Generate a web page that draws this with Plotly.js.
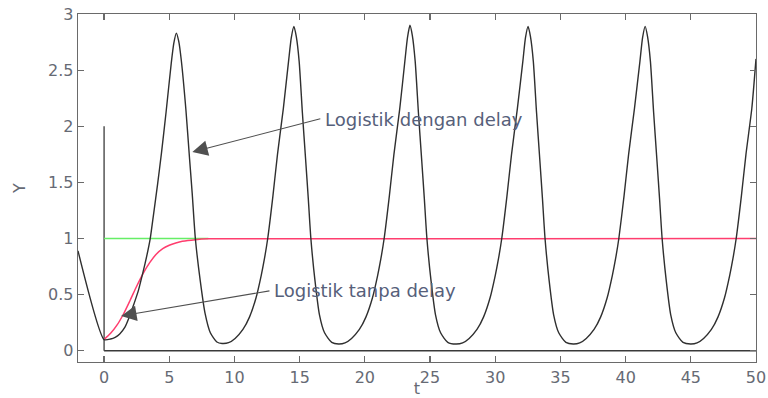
<!DOCTYPE html>
<html>
<head>
<meta charset="utf-8">
<script src="https://cdn.plot.ly/plotly-3.0.1.min.js"></script>
<style>html,body{margin:0;padding:0;background:#fff;}#chart{width:768px;height:398px;}</style>
</head>
<body>
<div id="chart"></div>
<script>
// Logistik dengan delay (black curve)
const tDelay = [-2, 0, 0.5, 0.85, 1.2, 1.6, 2.0, 2.3, 2.64, 2.9, 3.15, 3.54, 3.8, 4.1, 4.4, 4.75, 5.15, 5.35, 5.54,
  5.72, 5.92, 6.28, 6.55, 6.76, 7.0, 7.38, 7.75, 8.15, 8.65, 9.05,
  9.55, 10.05, 10.65, 11.15, 11.65, 12.05, 12.3, 12.55, 12.95, 13.3, 13.75, 14.15, 14.36, 14.56,
  14.74, 14.96, 15.21, 15.46, 15.66, 15.86, 16.18, 16.52, 16.91, 17.46, 17.98,
  18.48, 18.98, 19.58, 20.08, 20.58, 20.98, 21.23, 21.48, 21.88, 22.23, 22.68, 23.07, 23.27, 23.46,
  23.64, 23.86, 24.11, 24.36, 24.56, 24.76, 25.08, 25.42, 25.81, 26.36, 26.98,
  27.5, 28.0, 28.6, 29.1, 29.6, 30.0, 30.25, 30.5, 30.9, 31.25, 31.7, 32.12, 32.32, 32.52,
  32.7, 32.92, 33.17, 33.42, 33.62, 33.82, 34.14, 34.48, 34.87, 35.42, 35.98,
  36.48, 36.98, 37.58, 38.08, 38.58, 38.98, 39.23, 39.48, 39.88, 40.23, 40.68, 41.1, 41.3, 41.5,
  41.68, 41.9, 42.15, 42.4, 42.6, 42.8, 43.12, 43.46, 43.85, 44.4, 44.98,
  45.48, 45.98, 46.58, 47.08, 47.58, 47.98, 48.23, 48.48, 48.88, 49.23, 49.68, 50.0];
const yDelay = [0.89, 0.1, 0.105, 0.12, 0.15, 0.21, 0.32, 0.42, 0.54, 0.66, 0.78, 1.0, 1.22, 1.48, 1.76, 2.12, 2.56, 2.74, 2.83,
  2.76, 2.59, 2.14, 1.72, 1.40, 1.0, 0.62, 0.33, 0.16, 0.078, 0.065,
  0.072, 0.11, 0.19, 0.30, 0.47, 0.67, 0.82, 1.0, 1.38, 1.75, 2.16, 2.58, 2.79, 2.89,
  2.80, 2.58, 2.12, 1.70, 1.36, 1.0, 0.62, 0.32, 0.16, 0.075, 0.06,
  0.07, 0.11, 0.19, 0.30, 0.47, 0.67, 0.82, 1.0, 1.38, 1.75, 2.16, 2.58, 2.79, 2.90,
  2.81, 2.58, 2.12, 1.70, 1.36, 1.0, 0.62, 0.32, 0.16, 0.075, 0.06,
  0.07, 0.11, 0.19, 0.30, 0.47, 0.67, 0.82, 1.0, 1.38, 1.75, 2.16, 2.58, 2.79, 2.89,
  2.80, 2.58, 2.12, 1.70, 1.36, 1.0, 0.62, 0.32, 0.16, 0.075, 0.06,
  0.07, 0.11, 0.19, 0.30, 0.47, 0.67, 0.82, 1.0, 1.38, 1.75, 2.16, 2.58, 2.79, 2.89,
  2.80, 2.58, 2.12, 1.70, 1.36, 1.0, 0.62, 0.32, 0.16, 0.075, 0.06,
  0.07, 0.11, 0.19, 0.30, 0.47, 0.67, 0.82, 1.0, 1.38, 1.75, 2.16, 2.6];

// Logistik tanpa delay (red curve)
const tNoDelay = [0, 0.5, 1, 1.5, 2, 2.5, 3, 3.5, 4, 4.5, 5, 5.5, 6, 7, 8, 50];
const yNoDelay = [0.1, 0.155, 0.23, 0.33, 0.45, 0.575, 0.69, 0.785, 0.86, 0.91, 0.94, 0.96, 0.975, 0.99, 0.997, 1.0];

// carrying capacity line (green)
const tK = [0, 8];
const yK = [1, 1];

// reference axes lines drawn inside the plot
const tVert = [0, 0];
const yVert = [0, 2];
const tHor = [0, 50];
const yHor = [0, 0];

const xTicks = [0, 5, 10, 15, 20, 25, 30, 35, 40, 45, 50];
const yTicks = [0, 0.5, 1, 1.5, 2, 2.5, 3];
const yTickText = ['0', '0.5', '1', '1.5', '2', '2.5', '3'];

const labelDelay = 'Logistik dengan delay';
const labelNoDelay = 'Logistik tanpa delay';

const font = 'DejaVu Sans, Arial, sans-serif';
const tickColor = '#666a74';

const traces = [
  {x: tVert, y: yVert, mode: 'lines', line: {color: '#3a3a3a', width: 1.3}, hoverinfo: 'skip'},
  {x: tHor, y: yHor, mode: 'lines', line: {color: '#3a3a3a', width: 1.3}, hoverinfo: 'skip'},
  {x: tK, y: yK, mode: 'lines', line: {color: '#66ee66', width: 1.5}},
  {x: tNoDelay, y: yNoDelay, mode: 'lines', line: {color: '#ff3d6e', width: 1.5, shape: 'spline', smoothing: 0.8}},
  {x: tDelay, y: yDelay, mode: 'lines', line: {color: '#2f2f2f', width: 1.4, shape: 'spline', smoothing: 0.6}}
];

const axisCommon = {
  showline: true, linecolor: '#6a6a6a', linewidth: 1.3, mirror: 'ticks',
  ticks: 'inside', ticklen: 6, tickcolor: '#6a6a6a', tickwidth: 1.2,
  showgrid: false, zeroline: false,
  tickfont: {family: font, size: 16, color: tickColor}
};

const layout = {
  width: 768, height: 398,
  margin: {l: 78, r: 12, t: 14, b: 36},
  paper_bgcolor: '#ffffff', plot_bgcolor: '#ffffff',
  showlegend: false,
  xaxis: Object.assign({}, axisCommon, {
    range: [-2, 50], tickvals: xTicks,
    title: {text: 't', font: {family: font, size: 16, color: tickColor}, standoff: 0}
  }),
  yaxis: Object.assign({}, axisCommon, {
    range: [-0.1, 3], tickvals: yTicks, ticktext: yTickText,
    title: {text: 'Y', font: {family: font, size: 16, color: tickColor}, standoff: 18}
  }),
  annotations: [
    {x: 6.77, y: 1.77, ax: 16.7, ay: 2.07, xref: 'x', yref: 'y', axref: 'x', ayref: 'y',
     text: '', showarrow: true, arrowhead: 2, arrowsize: 2.8, arrowwidth: 1.1, arrowcolor: '#505050'},
    {x: 16.8, y: 2.06, xref: 'x', yref: 'y', xanchor: 'left', yanchor: 'middle', showarrow: false,
     text: labelDelay, font: {family: font, size: 18, color: '#56607a'}},
    {x: 1.31, y: 0.31, ax: 12.8, ay: 0.536, xref: 'x', yref: 'y', axref: 'x', ayref: 'y',
     text: '', showarrow: true, arrowhead: 2, arrowsize: 2.8, arrowwidth: 1.1, arrowcolor: '#505050'},
    {x: 12.9, y: 0.536, xref: 'x', yref: 'y', xanchor: 'left', yanchor: 'middle', showarrow: false,
     text: labelNoDelay, font: {family: font, size: 18, color: '#56607a'}}
  ]
};

Plotly.newPlot('chart', traces, layout, {displayModeBar: false, staticPlot: true});
</script>
</body>
</html>
